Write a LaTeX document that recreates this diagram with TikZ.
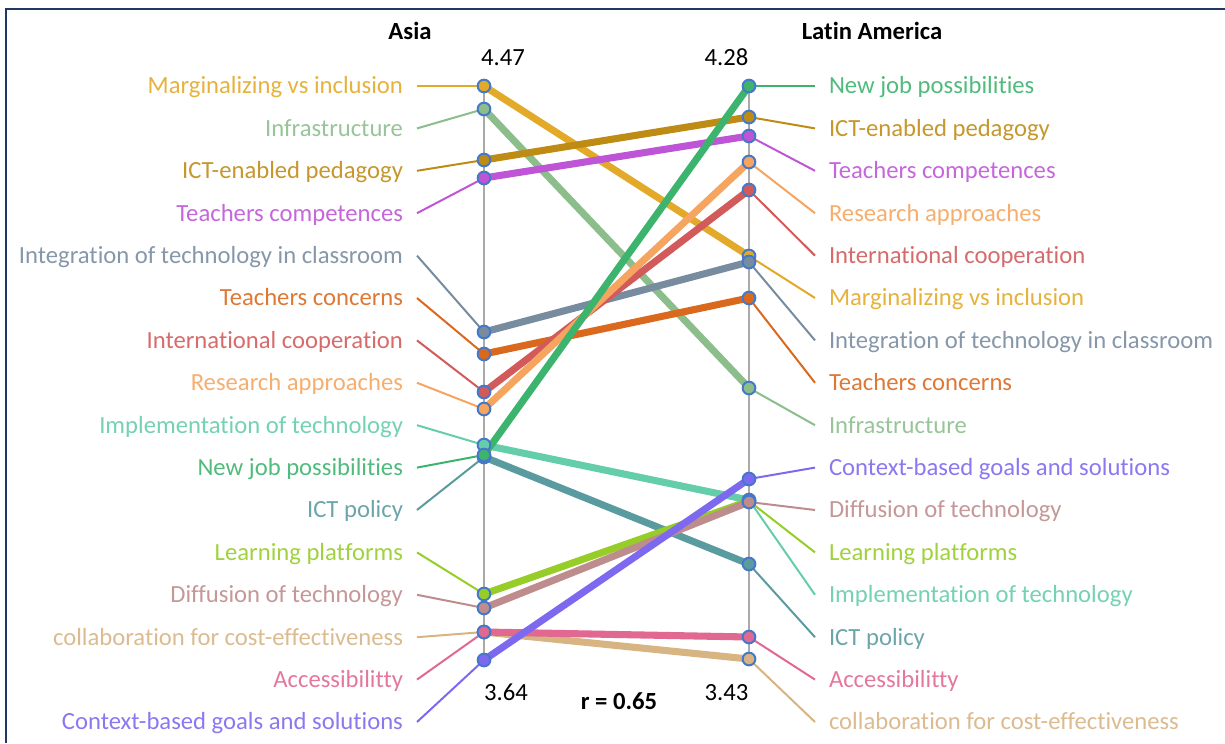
\documentclass[tikz,border=0pt]{standalone}
\usepackage{fontspec}
\setmainfont{Carlito}[Ligatures=NoCommon]
\definecolor{frame}{RGB}{31,56,100}
\definecolor{dotblue}{RGB}{70,120,200}
\definecolor{axisgray}{RGB}{170,170,170}
\definecolor{marg}{RGB}{226,170,40}
\definecolor{infra}{RGB}{140,190,140}
\definecolor{pedag}{RGB}{190,140,20}
\definecolor{tcomp}{RGB}{190,85,215}
\definecolor{integ}{RGB}{120,140,160}
\definecolor{tconc}{RGB}{218,105,30}
\definecolor{intco}{RGB}{210,90,90}
\definecolor{resea}{RGB}{245,165,95}
\definecolor{impl}{RGB}{100,205,170}
\definecolor{newjob}{RGB}{60,180,110}
\definecolor{ictpol}{RGB}{90,155,160}
\definecolor{learn}{RGB}{150,205,40}
\definecolor{diff}{RGB}{190,140,140}
\definecolor{collab}{RGB}{215,180,130}
\definecolor{access}{RGB}{225,105,145}
\definecolor{context}{RGB}{125,105,240}
\begin{document}
\begin{tikzpicture}[x=0.75pt,y=-0.75pt,
  txt/.style={font=\fontsize{18.5}{20}\selectfont, inner sep=0pt, text height=11.9pt, text depth=0pt},
  lbl/.style={txt, outer xsep=10.5pt, outer ysep=0pt},
  ttl/.style={txt, font=\fontsize{18.5}{20}\selectfont\bfseries},
  leader/.style={line width=1.5pt},
  band/.style={line width=5.3pt},
  dotm/.style={circle, draw=dotblue, line width=1.5pt, minimum size=9.5pt, inner sep=0pt},
  axisl/.style={draw=axisgray, line width=1.9pt}]
\useasboundingbox (0,0) rectangle (1225,743);
\draw[frame, line width=1.6pt] (6,743) -- (6,9) -- (1225,9);
% titles and numbers
\node[ttl] (tA) at (410,31.5) {Asia};
\node[ttl] (tL) at (872,31.5) {Latin America};
\node[txt] (n1) at (503,57.5) {4.47};
\node[txt] (n2) at (726.5,57.5) {4.28};
\node[txt] (n3) at (506,693) {3.64};
\node[txt] (n4) at (726.5,693) {3.43};
\node[ttl] (rr) at (619,702) {r = 0.65};
% axes
\coordinate (axAt) at (484,86);
\coordinate (axAb) at (484,660);
\coordinate (axBt) at (749,86);
\coordinate (axBb) at (749,660);
\draw[axisl] (axAt) -- (axAb);
\draw[axisl] (axBt) -- (axBb);
% series
\foreach \k/\lr/\ly/\rr/\ry/\t in {
  marg/0/86/5/256/Marginalizing vs inclusion,
  infra/1/109/8/388/Infrastructure,
  pedag/2/160/1/117/ICT-enabled pedagogy,
  tcomp/3/178/2/136/Teachers competences,
  integ/4/332/6/262/Integration of technology in classroom,
  tconc/5/354/7/298/Teachers concerns,
  intco/6/392/4/190/International cooperation,
  resea/7/409/3/162/Research approaches,
  impl/8/445/12/500/Implementation of technology,
  ictpol/10/457/13/564/ICT policy,
  learn/11/594/11/501/Learning platforms,
  diff/12/608/10/502/Diffusion of technology,
  collab/13/632/15/659/collaboration for cost-effectiveness,
  access/14/632/14/637/Accessibilitty,
  context/15/660/9/479/Context-based goals and solutions,
  newjob/9/455/0/86/New job possibilities}{
  \node[lbl, anchor=east, text=\k!90] (L\k) at (417,{86+42.4*\lr}) {\t};
  \node[lbl, anchor=west, text=\k!90] (R\k) at (815,{86+42.4*\rr}) {\t};
  \coordinate (a\k) at (484,\ly);
  \coordinate (b\k) at (749,\ry);
  \draw[leader, \k] (L\k.east) -- (a\k);
  \draw[leader, \k] (b\k) -- (R\k.west);
  \draw[band, \k] (a\k) -- (b\k);
}
\foreach \k in {marg,infra,pedag,tcomp,integ,tconc,intco,resea,impl,ictpol,learn,diff,collab,access,context,newjob}{
  \node[dotm, fill=\k] (d\k) at (a\k) {};
  \node[dotm, fill=\k] (e\k) at (b\k) {};
}
\end{tikzpicture}
\end{document}
